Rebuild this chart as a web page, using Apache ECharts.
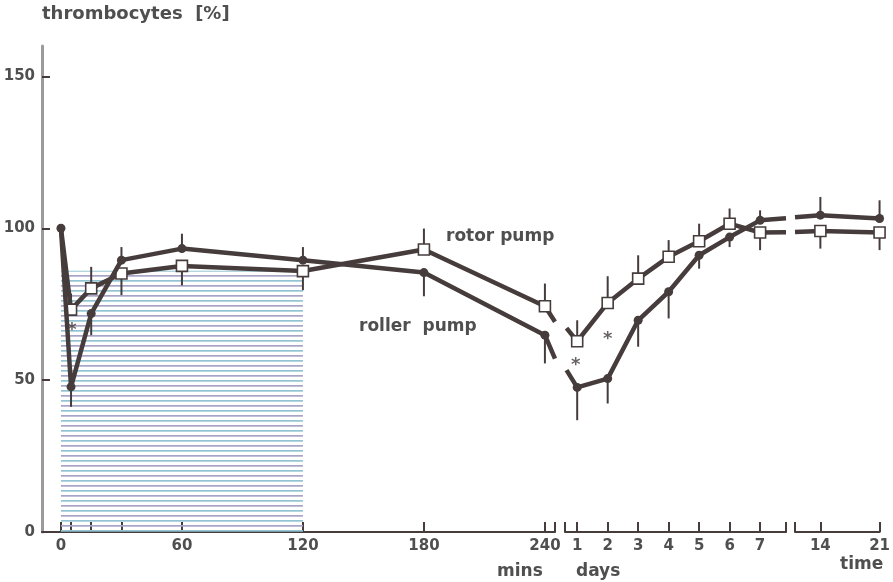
<!DOCTYPE html>
<html><head><meta charset="utf-8">
<script src="https://cdn.jsdelivr.net/npm/echarts@6/dist/echarts.min.js"></script>
<style>html,body{margin:0;padding:0;background:#fff}#c{width:893px;height:582px}</style>
</head><body><div id="c"></div>
<script>
// ---- data ----
const minutes = [0, 5, 15, 30, 60, 120, 180, 240];
const rollerMin = [100, 47.8, 71.9, 89.5, 93.3, 89.5, 85.4, 64.8];
const rollerMinErr = [null, 41.2, 64.8, 93.8, 98.2, 93.8, 77.6, 55.5];
const rotorMin = [100, 73.2, 80.2, 85.1, 87.6, 85.9, 93.0, 74.3];
const rotorMinErr = [null, 78.5, 87.3, 78.0, 81.2, 79.6, 99.9, 81.8];

const days = [1, 2, 3, 4, 5, 6, 7];
const rollerDay = [47.6, 50.5, 69.7, 79.1, 91.1, 97.1, 102.6];
const rollerDayErr = [36.8, 42.3, 61.0, 70.3, 86.7, 93.8, 105.9];
const rotorDay = [62.8, 75.4, 83.4, 90.6, 95.7, 101.5, 98.6];
const rotorDayErr = [69.7, 84.2, 91.1, 96.1, 101.5, 106.5, 92.8];

const weeks = [14, 21];
const rollerWeek = [104.3, 103.2];
const rollerWeekErr = [110.3, 109.2];
const rotorWeek = [99.1, 98.6];
const rotorWeekErr = [93.3, 92.8];

// line stubs at the axis breaks [x, roller, rotor]
const stubAfterMinutes = [245, 57.1, 69.2];
const stubBeforeDays = [0.65, 53.3, 67.1];
const stubAfterDays = [7.85, 103.3, 98.7];
const stubBeforeWeeks = [11, 103.6, 98.8];

// significance marks [x, y]
const starsMin = [[5.5, 66.5]];
const starsDay = [[0.95, 55.0], [2.0, 63.5]];

const minTicks = [0, 60, 120, 180, 240];
const minMinorTicks = [5, 15, 30];
const dayTicks = [1, 2, 3, 4, 5, 6, 7];
const weekTicks = [14, 21];
const yTicks = [0, 50, 100, 150];
const shadedRange = [0, 120, 86];

// ---- styling ----
const INK = '#463c3c';
const TXT = '#4f4f4f';
const FONT = '"DejaVu Sans", sans-serif';

function hatch() {
  const c = document.createElement('canvas');
  c.width = 8; c.height = 10;
  const g = c.getContext('2d');
  g.fillStyle = '#92c4d3'; g.fillRect(0, 0, 8, 1.7);
  g.fillStyle = '#a7a4c6'; g.fillRect(0, 5, 8, 1.7);
  return c;
}

const chart = echarts.init(document.getElementById('c'), null, {renderer: 'canvas'});

function lineData(xs, ys, before, after, idx) {
  const d = [];
  if (before) d.push({value: [before[0], before[idx]], symbol: 'none'});
  xs.forEach((x, i) => d.push([x, ys[i]]));
  if (after) d.push({value: [after[0], after[idx]], symbol: 'none'});
  return d;
}
function errData(xs, ys, es) {
  return xs.map((x, i) => [x, ys[i], es[i]]).filter(r => r[2] != null);
}
function errSeries(k, xs, ys, es) {
  return {
    type: 'custom', xAxisIndex: k, yAxisIndex: k, z: 1,
    data: errData(xs, ys, es),
    renderItem: (p, api) => {
      const a = api.coord([api.value(0), api.value(1)]);
      const b = api.coord([api.value(0), api.value(2)]);
      return {type: 'line', shape: {x1: a[0], y1: a[1], x2: b[0], y2: b[1]},
        style: {stroke: INK, lineWidth: 2}};
    }
  };
}
function rollerSeries(k, data) {
  return {type: 'line', xAxisIndex: k, yAxisIndex: k, data, z: 4,
    symbol: 'circle', symbolSize: 9, showAllSymbol: true,
    lineStyle: {color: INK, width: 4.5}, itemStyle: {color: INK}};
}
function rotorSeries(k, data, hideFirst) {
  return {type: 'line', xAxisIndex: k, yAxisIndex: k, data, z: 3,
    symbol: hideFirst ? (v, p) => (p.dataIndex === 0 ? 'none' : 'rect') : 'rect',
    symbolSize: 11, showAllSymbol: true,
    lineStyle: {color: INK, width: 4.5},
    itemStyle: {color: '#fff', borderColor: INK, borderWidth: 1.6}};
}
function starSeries(k, data) {
  return {type: 'scatter', xAxisIndex: k, yAxisIndex: k, data, z: 5,
    symbol: 'circle', symbolSize: 10, itemStyle: {color: 'rgba(0,0,0,0)'},
    label: {show: true, position: 'inside', formatter: '*',
      fontFamily: FONT, fontWeight: 'bold', fontSize: 18, color: INK}};
}

function xAx(k, min, max, ticks, labels) {
  return {
    type: 'value', gridIndex: k, min, max, position: 'bottom',
    axisLine: {show: true, onZero: false, lineStyle: {color: INK, width: 2.2}},
    axisTick: {show: true, inside: true, length: 10, customValues: ticks,
      lineStyle: {color: INK, width: 2}},
    axisLabel: {show: true, customValues: labels, margin: 7, fontFamily: FONT,
      fontSize: 15, fontWeight: 'bold', color: TXT},
    splitLine: {show: false}
  };
}
function yAx(k, show) {
  return {
    type: 'value', gridIndex: k, min: 0, max: 160, show,
    axisLine: {show: true, onZero: false, lineStyle: {color: '#9a9a9a', width: 3}},
    axisTick: {show: true, inside: true, length: 8, customValues: yTicks,
      lineStyle: {color: INK, width: 2}},
    axisLabel: {show: true, customValues: yTicks, margin: 7, fontFamily: FONT,
      fontSize: 15, fontWeight: 'bold', color: TXT},
    splitLine: {show: false}
  };
}

const gridTop = 46, gridBottom = 50;
const labelFont = 'bold 17px ' + FONT;
const option = {
  animation: false,
  backgroundColor: '#fff',
  grid: [
    {left: 42, width: 513, top: gridTop, bottom: gridBottom},
    {left: 565, width: 221, top: gridTop, bottom: gridBottom},
    {left: 795, width: 87, top: gridTop, bottom: gridBottom}
  ],
  xAxis: [
    xAx(0, -9.4, 245, minTicks.concat(minMinorTicks, [245]), minTicks),
    xAx(1, 0.6, 7.85, [0.6].concat(dayTicks, [7.85]), dayTicks),
    xAx(2, 11, 21, [11].concat(weekTicks), weekTicks)
  ],
  yAxis: [yAx(0, true), yAx(1, false), yAx(2, false)],
  graphic: [
    {type: 'text', left: 42, top: 5, style: {text: 'thrombocytes  [%]',
      font: 'bold 18px ' + FONT, fill: TXT}},
    {type: 'text', left: 446, top: 228, style: {text: 'rotor pump',
      font: labelFont, fill: TXT}},
    {type: 'text', left: 359, top: 318, style: {text: 'roller  pump',
      font: labelFont, fill: TXT}},
    {type: 'text', left: 497, top: 563, style: {text: 'mins',
      font: labelFont, fill: TXT}},
    {type: 'text', left: 576, top: 563, style: {text: 'days',
      font: labelFont, fill: TXT}},
    {type: 'text', left: 840, top: 556, style: {text: 'time',
      font: labelFont, fill: TXT}}
  ],
  series: [
    {type: 'line', xAxisIndex: 0, yAxisIndex: 0, data: [], z: 0,
      markArea: {silent: true, itemStyle: {color: {image: hatch(), repeat: 'repeat'}},
        data: [[{coord: [shadedRange[0], 0]}, {coord: [shadedRange[1], shadedRange[2]]}]]}},
    errSeries(0, minutes, rollerMin, rollerMinErr),
    errSeries(0, minutes, rotorMin, rotorMinErr),
    errSeries(1, days, rollerDay, rollerDayErr),
    errSeries(1, days, rotorDay, rotorDayErr),
    errSeries(2, weeks, rollerWeek, rollerWeekErr),
    errSeries(2, weeks, rotorWeek, rotorWeekErr),
    rotorSeries(0, lineData(minutes, rotorMin, null, stubAfterMinutes, 2), true),
    rollerSeries(0, lineData(minutes, rollerMin, null, stubAfterMinutes, 1)),
    rotorSeries(1, lineData(days, rotorDay, stubBeforeDays, stubAfterDays, 2)),
    rollerSeries(1, lineData(days, rollerDay, stubBeforeDays, stubAfterDays, 1)),
    rotorSeries(2, lineData(weeks, rotorWeek, stubBeforeWeeks, null, 2)),
    rollerSeries(2, lineData(weeks, rollerWeek, stubBeforeWeeks, null, 1)),
    starSeries(0, starsMin),
    starSeries(1, starsDay)
  ]
};
chart.setOption(option);
</script></body></html>
